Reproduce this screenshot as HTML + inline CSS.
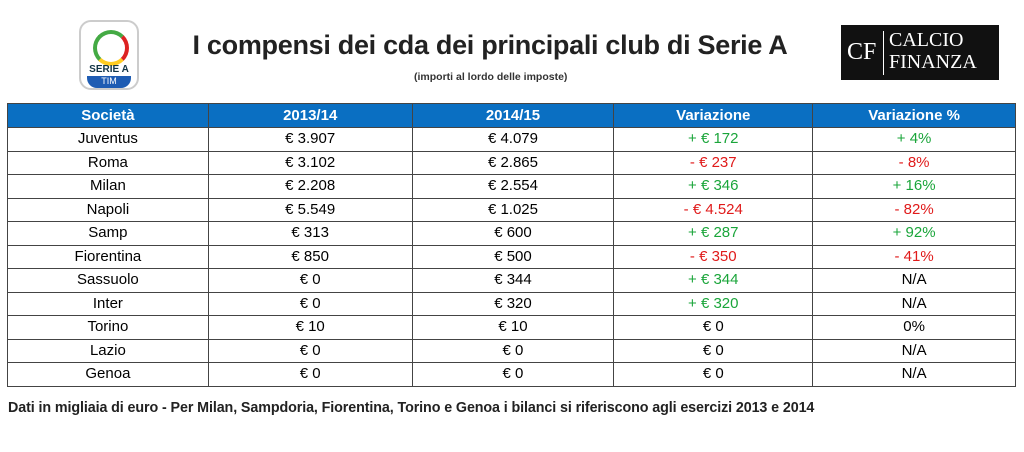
<!DOCTYPE html>
<html><head><meta charset="utf-8"><style>
body{margin:0;width:1024px;height:452px;background:#fff;position:relative;overflow:hidden;font-family:"Liberation Sans",sans-serif}
.title{position:absolute;left:160px;top:30px;width:660px;text-align:center;font-size:27px;font-weight:bold;color:#222;letter-spacing:-0.3px}
.sub{position:absolute;left:414px;top:71px;font-size:10.5px;font-weight:bold;color:#333}
table{position:absolute;left:7px;top:103px;width:1009px;border-collapse:collapse;font-size:15px}
td,th{border:1px solid #444;text-align:center;height:22.5px;padding:0;line-height:22px}
th{background:#0a6fc2;color:#fff;font-weight:bold;height:23px}
.g{color:#1aa53a}.r{color:#e01a1a}
.foot{position:absolute;left:8px;top:400px;font-size:14.3px;font-weight:bold;color:#222;letter-spacing:-0.1px}
.logo{position:absolute;left:79px;top:20px;width:56px;height:66px;border-radius:12px;border:2px solid #ccc;background:#fff}
.cf{position:absolute;left:841px;top:25px;width:158px;height:55px;background:#111;color:#fff;font-family:"Liberation Serif",serif}
</style></head><body>
<div class="logo">
<div style="position:absolute;left:12px;top:8px;width:28px;height:28px;border-radius:50%;border:4px solid #4a4;border-right-color:#d22;border-bottom-color:#fc2"></div>
<div style="position:absolute;left:4px;top:42px;width:48px;font-size:10px;color:#134;text-align:center;font-weight:bold">SERIE A</div>
<div style="position:absolute;left:6px;top:54px;width:44px;height:12px;background:#1e5cb3;color:#fff;font-size:9px;text-align:center;border-radius:0 0 10px 10px">TIM</div>
</div>
<div class="title">I compensi dei cda dei principali club di Serie A</div>
<div class="sub">(importi al lordo delle imposte)</div>
<div class="cf"><span style="position:absolute;left:6px;top:14px;font-size:24px">CF</span><div style="position:absolute;left:42px;top:6px;width:1px;height:44px;background:#fff"></div><span style="position:absolute;left:48px;top:4px;font-size:20px">CALCIO</span><span style="position:absolute;left:48px;top:26px;font-size:20px">FINANZA</span></div>
<table>
<colgroup><col style="width:201px"><col style="width:204px"><col style="width:202px"><col style="width:199px"><col style="width:203px"></colgroup>
<tr><th>Società</th><th>2013/14</th><th>2014/15</th><th>Variazione</th><th>Variazione %</th></tr>
<tr><td>Juventus</td><td>€ 3.907</td><td>€ 4.079</td><td class="g">+ € 172</td><td class="g">+ 4%</td></tr>
<tr><td>Roma</td><td>€ 3.102</td><td>€ 2.865</td><td class="r">- € 237</td><td class="r">- 8%</td></tr>
<tr><td>Milan</td><td>€ 2.208</td><td>€ 2.554</td><td class="g">+ € 346</td><td class="g">+ 16%</td></tr>
<tr><td>Napoli</td><td>€ 5.549</td><td>€ 1.025</td><td class="r">- € 4.524</td><td class="r">- 82%</td></tr>
<tr><td>Samp</td><td>€ 313</td><td>€ 600</td><td class="g">+ € 287</td><td class="g">+ 92%</td></tr>
<tr><td>Fiorentina</td><td>€ 850</td><td>€ 500</td><td class="r">- € 350</td><td class="r">- 41%</td></tr>
<tr><td>Sassuolo</td><td>€ 0</td><td>€ 344</td><td class="g">+ € 344</td><td>N/A</td></tr>
<tr><td>Inter</td><td>€ 0</td><td>€ 320</td><td class="g">+ € 320</td><td>N/A</td></tr>
<tr><td>Torino</td><td>€ 10</td><td>€ 10</td><td>€ 0</td><td>0%</td></tr>
<tr><td>Lazio</td><td>€ 0</td><td>€ 0</td><td>€ 0</td><td>N/A</td></tr>
<tr><td>Genoa</td><td>€ 0</td><td>€ 0</td><td>€ 0</td><td>N/A</td></tr>
</table>
<div class="foot">Dati in migliaia di euro - Per Milan, Sampdoria, Fiorentina, Torino e Genoa i bilanci si riferiscono agli esercizi 2013 e 2014</div>
</body></html>
